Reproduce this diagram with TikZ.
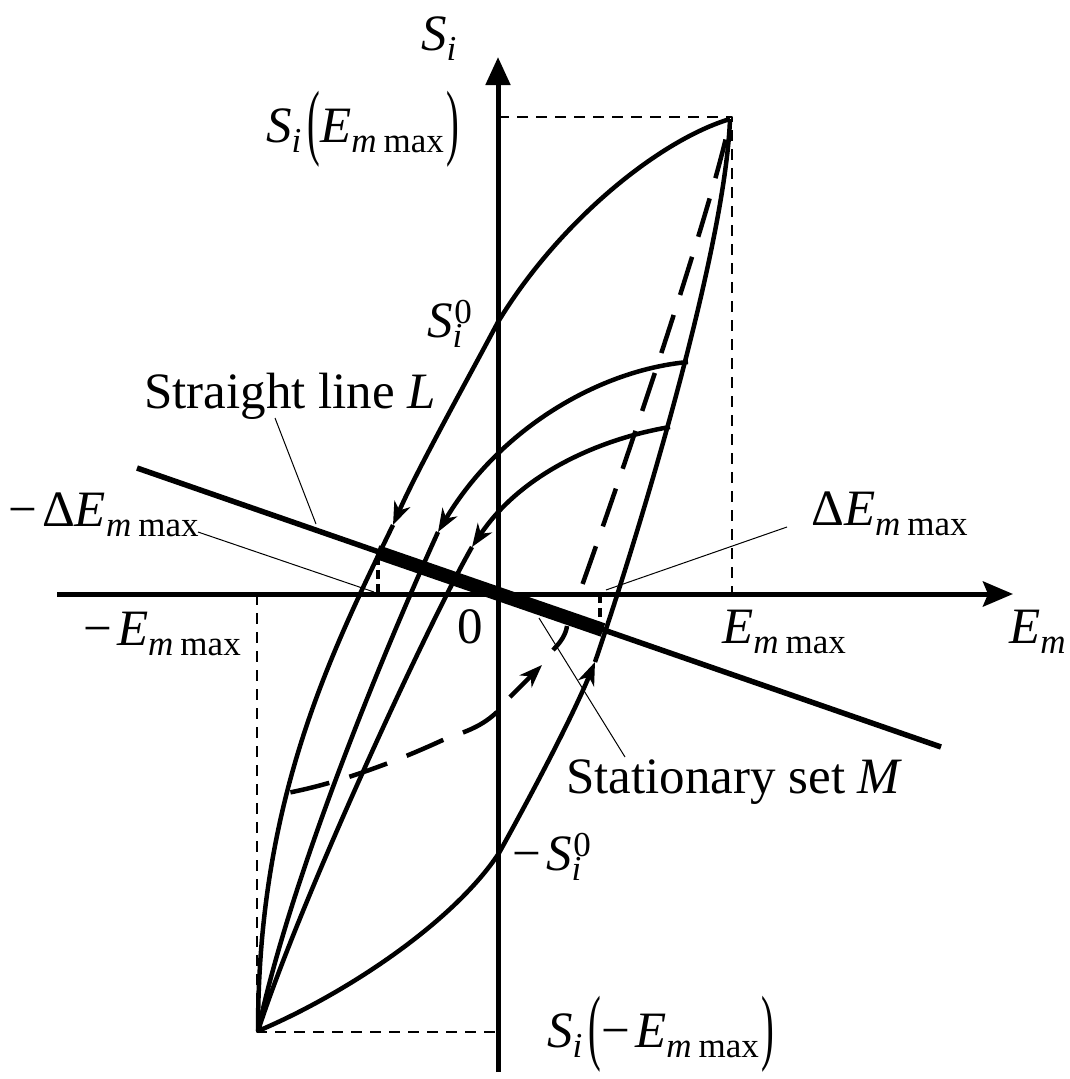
\documentclass[tikz,border=0pt]{standalone}
\usepackage{fontspec}
\setmainfont{Liberation Serif}
\usepackage{graphicx}
\usetikzlibrary{arrows.meta}

\newcommand{\lo}[1]{\raisebox{-0.2em}{\fontsize{35}{40}\selectfont #1}}
\newcommand{\hi}[1]{\raisebox{0.26em}{\fontsize{35}{40}\selectfont #1}}
\newcommand{\lpar}{\raisebox{-0.15em}{\scalebox{0.75}[1.65]{(}}}
\newcommand{\rpar}{\raisebox{-0.15em}{\scalebox{0.75}[1.65]{)}}}
\newcommand{\Emax}{\textit{E}\lo{\textit{m}\hspace{0.2em}max}}
\newcommand{\Si}{\textit{S}\lo{\textit{i}}}
\newcommand{\Sio}{\textit{S}\rlap{\hi{\hspace{0.05em}0}}\lo{\textit{i}}}

\tikzset{
  lab/.style={font=\fontsize{51}{60}\selectfont, inner sep=0pt, anchor=base west},
  axisline/.style={line width=5pt},
  curve/.style={line width=4.5pt},
  refline/.style={line width=2.5pt, dash pattern=on 11pt off 8pt},
  lead/.style={line width=1pt},
  ctip/.style={-{Stealth[length=23pt,width=17pt,inset=7pt]}},
  bigdash/.style={line width=4.5pt, dash pattern=on 40pt off 21pt},
}

\begin{document}
\begin{tikzpicture}[x=1pt,y=-1pt,line join=round]
\fill[white] (0,0) rectangle (1069,1079);
\useasboundingbox (0,0) rectangle (1069,1079);

\coordinate (O) at (498,594);
\coordinate (P) at (730,119);
\coordinate (Q) at (258,1031);
\coordinate (S0) at (498,322);
\coordinate (mS0) at (499,853);

% reference dashed lines
\draw[refline] (498,117) -- (732,117) -- (732,594);
\draw[refline] (257,594) -- (257,1032) -- (498,1032);

% axes
\coordinate (ybot) at (498,1072);
\coordinate (ytop) at (498,57);
\coordinate (xleft) at (57,594);
\coordinate (xright) at (1013,594);
\draw[axisline,-{Triangle[length=28pt,width=24pt]}] (ybot) -- (ytop);
\draw[axisline,-{Stealth[length=30pt,width=25pt,inset=5pt]}] (xleft) -- (xright);

% straight line L and stationary set M
\coordinate (L1) at (137,468);
\coordinate (L2) at (941,747);
\draw[line width=5.5pt] (L1) -- (L2);
\coordinate (M1) at (377,552);
\coordinate (M2) at (603,630);
\draw[line width=14pt] (M1) -- (M2);
\draw[line width=4pt, dash pattern=on 9pt off 5pt] (378,556) -- (378,594);
\draw[line width=4pt, dash pattern=on 9pt off 5pt] (600,594) -- (600,626);

% outer descending branch
\coordinate (a1) at (393,525);
\draw[curve] (P) .. controls (660,140) and (560,220) .. (S0);
\draw[curve,ctip] (S0) .. controls (470,375) and (418,468) .. (a1);
\draw[curve] (a1) .. controls (330,655) and (258,800) .. (Q);

% outer ascending branch
\coordinate (a2) at (595,662);
\draw[curve] (Q) .. controls (350,992) and (455,920) .. (mS0);
\draw[curve,ctip] (mS0) .. controls (530,797) and (570,722) .. (a2);
\draw[curve] (a2) .. controls (640,530) and (725,250) .. (P);

% inner branch 1
\coordinate (B1) at (688,362);
\coordinate (a3) at (438,532);
\draw[curve,ctip] (B1) .. controls (600,370) and (500,428) .. (a3);
\draw[curve] (a3) .. controls (380,660) and (290,880) .. (Q);

% inner branch 2
\coordinate (B2) at (670,427);
\coordinate (a4) at (472,547);
\draw[curve,ctip] (B2) .. controls (610,437) and (525,468) .. (a4);
\draw[curve] (a4) .. controls (430,620) and (300,900) .. (Q);

% dashed path
\coordinate (D1) at (579,594);
\draw[bigdash, dash phase=40pt] (P) .. controls (715,200) and (620,480) .. (D1);
\draw[curve] (553,650) .. controls (561,642) and (566,634) .. (567,626);
\coordinate (t1) at (510,697);
\coordinate (t2) at (542,665);
\draw[curve,ctip] (t1) -- (t2);
\coordinate (D2) at (497,712);
\coordinate (D3) at (287,793);
\draw[bigdash] (D2) .. controls (482,726) and (468,731) .. (445,739) .. controls (400,760) and (340,783) .. (D3);

% leader lines
\draw[lead] (275,418) -- (316,524);
\draw[lead] (198,532) -- (374,592);
\draw[lead] (787,527) -- (606,590);
\draw[lead] (625,757) -- (539,618);

% labels
\node[lab] (lSi) at (421,50) {\Si};
\node[lab] (lSmax) at (266,142) {\Si\hspace{0.12em}\lpar\Emax\hspace{0.05em}\rpar};
\node[lab] (lS0) at (427,337) {\Sio};
\node[lab] (lL) at (144,408) {Straight line \textit{L}};
\node[lab] (ldEn) at (8,526) {−\hspace{0.1em}Δ\Emax};
\node[lab] (lEn) at (83,645) {−\hspace{0.1em}\Emax};
\node[lab] (lzero) at (457,643) {0};
\node[lab] (ldE) at (811,525) {Δ\Emax};
\node[lab] (lE) at (722,643) {\Emax};
\node[lab] (lEm) at (1009,643) {\textit{E}\lo{\textit{m}}};
\node[lab] (lM) at (566,793) {Stationary set \textit{M}};
\node[lab] (lS0n) at (512,870) {−\hspace{0.1em}\Sio};
\node[lab] (lSmin) at (547,1047) {\Si\hspace{0.12em}\lpar−\hspace{0.1em}\Emax\hspace{0.05em}\rpar};
\end{tikzpicture}
\end{document}
